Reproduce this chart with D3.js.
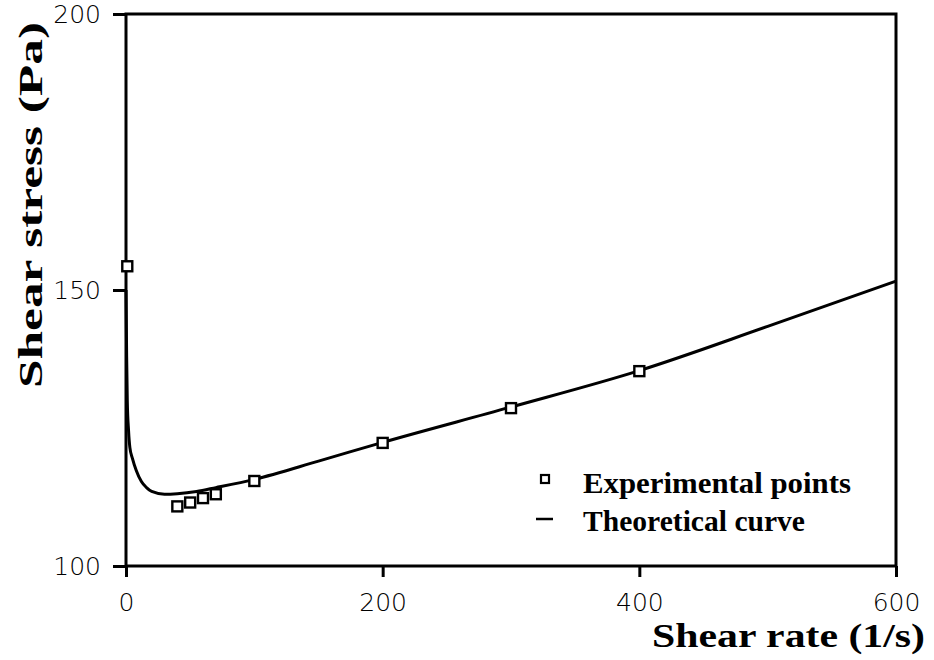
<!DOCTYPE html>
<html><head><meta charset="utf-8">
<script src="https://cdn.jsdelivr.net/npm/d3@7"></script>
<style>body{margin:0;background:#fff}svg{display:block}</style>
</head><body>
<svg id="c" width="934" height="660"></svg>
<script>
const xTicks = [0, 200, 400, 600];
const yTicks = [100, 150, 200];
const expX = [1, 40, 50, 60, 70, 100, 200, 300, 400];
const expY = [154.3, 110.8, 111.5, 112.3, 113.0, 115.4, 122.3, 128.6, 135.3];
const curveX = [0, 0.5, 1, 2, 3, 5, 8, 12, 16, 20, 30, 40, 55, 70, 100, 150, 200, 300, 400, 500, 600];
const curveY = [150, 138, 130, 124.5, 121.5, 119.5, 117.3, 115.3, 114.2, 113.5, 113.0, 113.1, 113.5, 114.2, 115.7, 119.0, 122.4, 128.8, 135.4, 143.4, 151.6];
const legendLabels = ["Experimental points", "Theoretical curve"];
const xTitle = "Shear rate (1/s)";
const yTitle = "Shear stress (Pa)";

const svg = d3.select("#c");
const x = d3.scaleLinear().domain([0, 600]).range([126, 896]);
const y = d3.scaleLinear().domain([100, 200]).range([566, 14]);
const ink = "#000";
const tickFont = "'DejaVu Sans', sans-serif";
const serif = "'Liberation Serif', 'Times New Roman', serif";

// frame
svg.append("rect").attr("x", x(0)).attr("y", y(200)).attr("width", x(600) - x(0)).attr("height", y(100) - y(200))
  .attr("fill", "none").attr("stroke", ink).attr("stroke-width", 3);

// y axis
const ya = svg.append("g").attr("transform", `translate(${x(0)},0)`)
  .call(d3.axisLeft(y).tickValues(yTicks).tickSize(13).tickPadding(12).tickFormat(d3.format("d")));
ya.select(".domain").remove();
ya.selectAll("line").attr("stroke", ink).attr("stroke-width", 3);
ya.selectAll("text").attr("font-family", tickFont).attr("font-size", 25).attr("font-weight", 300).attr("fill", ink);

// x axis
const xa = svg.append("g").attr("transform", `translate(0,${y(100)})`)
  .call(d3.axisBottom(x).tickValues(xTicks).tickSize(11).tickPadding(16).tickFormat(d3.format("d")));
xa.select(".domain").remove();
xa.selectAll("line").attr("stroke", ink).attr("stroke-width", 3);
xa.selectAll("text").attr("font-family", tickFont).attr("font-size", 25).attr("font-weight", 300).attr("fill", ink);

// curve
const line = d3.line().x(d => x(d[0])).y(d => y(d[1])).curve(d3.curveMonotoneX);
svg.append("path").datum(curveX.map((v, i) => [v, curveY[i]])).attr("d", line)
  .attr("fill", "none").attr("stroke", ink).attr("stroke-width", 3);

// points
svg.selectAll("rect.pt").data(expX.map((v, i) => [v, expY[i]])).enter().append("rect")
  .attr("class", "pt").attr("x", d => x(d[0]) - 5).attr("y", d => y(d[1]) - 5)
  .attr("width", 10).attr("height", 10).attr("fill", "#fff").attr("stroke", ink).attr("stroke-width", 2.4);

// legend
const lg = svg.append("g");
lg.append("rect").attr("x", 541).attr("y", 475).attr("width", 8).attr("height", 8)
  .attr("fill", "#fff").attr("stroke", ink).attr("stroke-width", 2.2);
lg.append("line").attr("x1", 536).attr("x2", 553).attr("y1", 519).attr("y2", 519).attr("stroke", ink).attr("stroke-width", 2.5);
const legW = [268, 222];
lg.selectAll("text").data(legendLabels).enter().append("text")
  .attr("x", 583).attr("y", (d, i) => 493 + i * 38).text(d => d)
  .attr("textLength", (d, i) => legW[i]).attr("lengthAdjust", "spacingAndGlyphs")
  .attr("font-family", serif).attr("font-weight", "bold").attr("font-size", 30).attr("fill", ink);

// titles
svg.append("text").attr("x", 652).attr("y", 647).text(xTitle)
  .attr("textLength", 273).attr("lengthAdjust", "spacingAndGlyphs")
  .attr("font-family", serif).attr("font-weight", "bold").attr("font-size", 33).attr("fill", ink);
svg.append("text").attr("transform", "translate(42,388) rotate(-90)").text(yTitle)
  .attr("textLength", 366).attr("lengthAdjust", "spacingAndGlyphs")
  .attr("font-family", serif).attr("font-weight", "bold").attr("font-size", 33).attr("fill", ink);
</script>
</body></html>
